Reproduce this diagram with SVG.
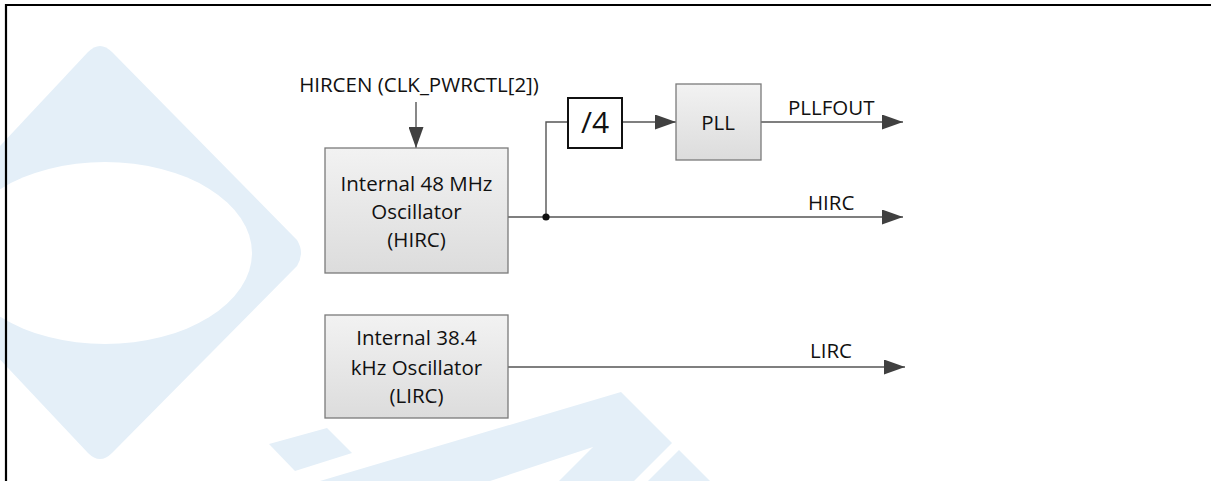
<svg xmlns="http://www.w3.org/2000/svg" width="1211" height="481" viewBox="0 0 1211 481">
  <style>
    .lbl { font-family: "Open Sans", "Liberation Sans", sans-serif; font-size: 20.5px; fill: #111; }
    .mid { text-anchor: middle; }
    .box { fill: url(#boxFill); stroke: #7a7a7a; stroke-width: 1.3; }
    .wire { fill: none; stroke: #555; stroke-width: 1.4; }
    .wm { fill: #e4eff8; }
  </style>
  <defs>
    <linearGradient id="boxFill" x1="0" y1="0" x2="0" y2="1">
      <stop offset="0" stop-color="#f2f2f2"/>
      <stop offset="1" stop-color="#dcdcdc"/>
    </linearGradient>
    <marker id="arrow" viewBox="0 0 21 15" refX="21" refY="7.5" markerWidth="21" markerHeight="15" markerUnits="userSpaceOnUse" orient="auto">
      <path d="M0,0 L21,7.5 L0,15 Z" fill="#404040"/>
    </marker>
  </defs>

  <rect width="1211" height="481" fill="#fff"/>

  <!-- background logo -->
  <g id="watermark">
    <path class="wm" d="M88,52 Q100,40 112,52 L297,240 Q305,253 297,266 L112,453 Q100,465 88,453 L-100,253 Z"/>
    <ellipse cx="105" cy="253" rx="147" ry="91" fill="#fff"/>
    <path class="wm" d="M269,444 L327,428 L352,453 L295,471 Z"/>
    <path class="wm" d="M320,481 L621,392 L672,443 L634,481 L559,481 L593,447 L490,481 Z"/>
    <path class="wm" d="M679,450 L710,481 L648,481 Z"/>
  </g>

  <!-- frame -->
  <path d="M6,481 L6,5 L1211,5" fill="none" stroke="#000" stroke-width="2.2"/>

  <g id="connectors">
    <line class="wire" x1="416" y1="102" x2="416" y2="148" marker-end="url(#arrow)"/>
    <line class="wire" x1="508" y1="217" x2="903" y2="217" marker-end="url(#arrow)"/>
    <polyline class="wire" points="546,217 546,122 568,122"/>
    <line class="wire" x1="622" y1="122" x2="676" y2="122" marker-end="url(#arrow)"/>
    <line class="wire" x1="761" y1="122" x2="903" y2="122" marker-end="url(#arrow)"/>
    <line class="wire" x1="508" y1="367" x2="905" y2="367" marker-end="url(#arrow)"/>
    <circle cx="546" cy="217" r="3.6" fill="#111"/>
    <text class="lbl mid" x="419" y="92">HIRCEN (CLK_PWRCTL[2])</text>
    <text class="lbl" x="788" y="115">PLLFOUT</text>
    <text class="lbl" x="808" y="210">HIRC</text>
    <text class="lbl" x="810" y="358">LIRC</text>
  </g>

  <g id="hirc">
    <rect class="box" x="325" y="148" width="183" height="125"/>
    <text class="lbl mid" x="416.5" y="191">Internal 48 MHz</text>
    <text class="lbl mid" x="416.5" y="219">Oscillator</text>
    <text class="lbl mid" x="416.5" y="247">(HIRC)</text>
  </g>

  <g id="div4">
    <rect x="568" y="98" width="54" height="50" fill="#fff" stroke="#111" stroke-width="2"/>
    <text class="lbl mid" x="595" y="133" style="font-size:30px">/4</text>
  </g>

  <g id="pll">
    <rect class="box" x="676" y="84" width="85" height="76"/>
    <text class="lbl mid" x="718" y="130">PLL</text>
  </g>

  <g id="lirc">
    <rect class="box" x="325" y="315" width="183" height="103"/>
    <text class="lbl mid" x="416.5" y="345">Internal 38.4</text>
    <text class="lbl mid" x="416.5" y="375">kHz Oscillator</text>
    <text class="lbl mid" x="416.5" y="403">(LIRC)</text>
  </g>
</svg>
